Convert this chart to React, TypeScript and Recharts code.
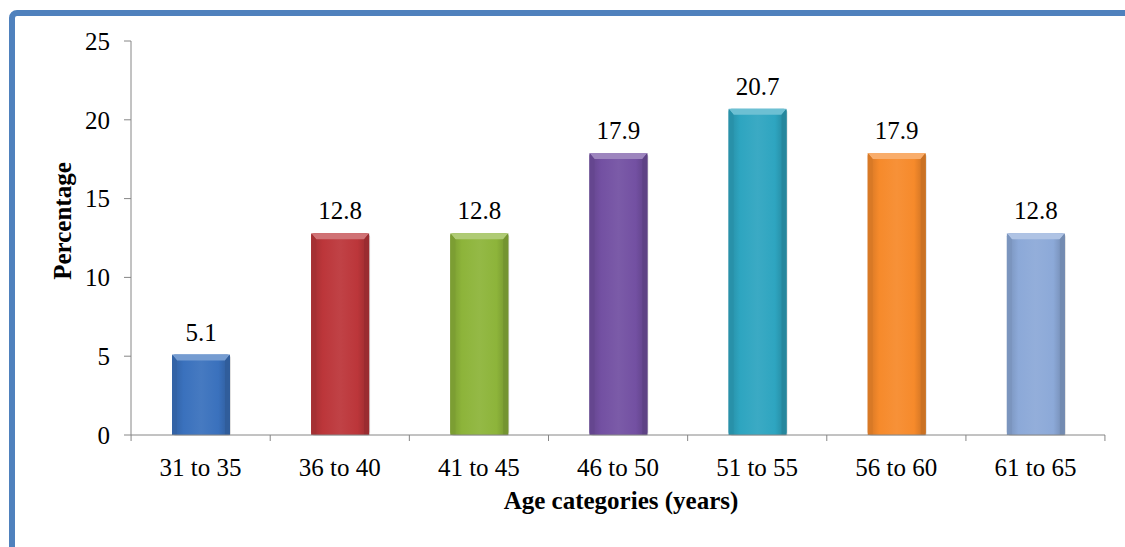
import { Bar, BarChart, LabelList, XAxis, YAxis } from "recharts";

const ageGroups = ["31 to 35", "36 to 40", "41 to 45", "46 to 50", "51 to 55", "56 to 60", "61 to 65"];
const percentages = [5.1, 12.8, 12.8, 17.9, 20.7, 17.9, 12.8];
const barColors = ["#3a71bd", "#bc363a", "#8db43a", "#7350a2", "#2ea5c0", "#f68a2b", "#8ca9d8"];
const yTicks = [0, 5, 10, 15, 20, 25];

const data = ageGroups.map((group, i) => ({ group, value: percentages[i] }));

const FONT = "'Liberation Serif', 'Times New Roman', serif";
const BAND = 139;
const textStyle = { fontFamily: FONT, fontSize: 25, fill: "#000" };

// shift a hex colour toward black (amt < 0) or white (amt > 0)
function shade(hex: string, amt: number) {
  const n = parseInt(hex.slice(1), 16);
  const ch = [(n >> 16) & 255, (n >> 8) & 255, n & 255].map((c) =>
    Math.round(amt < 0 ? c * (1 + amt) : c + (255 - c) * amt)
  );
  return `rgb(${ch[0]},${ch[1]},${ch[2]})`;
}

function BevelBar(props: any) {
  const { x, y, width, height, index } = props;
  if (!height || height <= 0) return null;
  const base = barColors[index];
  const b = 5;
  return (
    <g>
      <rect x={x + 1} y={y + 1} width={width} height={height} fill="rgba(0,0,0,0.12)" rx={3} />
      <rect x={x} y={y} width={width} height={height} fill={`url(#bar-grad-${index})`} rx={3} />
      <polygon
        points={`${x},${y} ${x + width},${y} ${x + width - b},${y + b + 1} ${x + b},${y + b + 1}`}
        fill={shade(base, 0.3)}
      />
      <polygon
        points={`${x},${y} ${x + b},${y + b + 1} ${x + b},${y + height} ${x},${y + height}`}
        fill={shade(base, -0.12)}
      />
      <polygon
        points={`${x + width},${y} ${x + width - b},${y + b + 1} ${x + width - b},${y + height} ${x + width},${y + height}`}
        fill={shade(base, -0.18)}
      />
    </g>
  );
}

function CategoryTick(props: any) {
  const { x, y, payload, index } = props;
  const axisY = y - 23;
  return (
    <g>
      <line x1={x - BAND / 2} y1={axisY} x2={x - BAND / 2} y2={axisY + 6} stroke="#868686" />
      {index === ageGroups.length - 1 && (
        <line x1={x + BAND / 2} y1={axisY} x2={x + BAND / 2} y2={axisY + 6} stroke="#868686" />
      )}
      <text x={x} y={y} dy="0.71em" textAnchor="middle" style={textStyle}>
        {payload.value}
      </text>
    </g>
  );
}

export default function App() {
  return (
    <div style={{ position: "absolute", left: 0, top: 0, width: 1125, height: 547, background: "#fff", overflow: "hidden" }}>
      <div
        style={{
          position: "absolute",
          left: 9,
          top: 10,
          width: 1200,
          height: 600,
          border: "6px solid #4f81bd",
          borderRadius: 8,
        }}
      />
      <div style={{ position: "absolute", left: 0, top: 0 }}>
        <BarChart
          width={1125}
          height={547}
          data={data}
          margin={{ top: 41, right: 20, bottom: 52, left: 71 }}
          barCategoryGap={0}
        >
          <defs>
            {barColors.map((c, i) => (
              <linearGradient key={c} id={`bar-grad-${i}`} x1="0" y1="0" x2="1" y2="0">
                <stop offset="0%" stopColor={shade(c, -0.15)} />
                <stop offset="20%" stopColor={c} />
                <stop offset="50%" stopColor={shade(c, 0.06)} />
                <stop offset="80%" stopColor={c} />
                <stop offset="100%" stopColor={shade(c, -0.2)} />
              </linearGradient>
            ))}
          </defs>
          <XAxis
            dataKey="group"
            height={60}
            stroke="#868686"
            tickLine={false}
            tickSize={6}
            tickMargin={17}
            interval={0}
            tick={<CategoryTick />}
            label={{
              value: "Age categories (years)",
              content: () => (
                <text x={621} y={509} textAnchor="middle" style={{ ...textStyle, fontWeight: "bold" }}>
                  Age categories (years)
                </text>
              ),
            }}
          />
          <YAxis
            width={60}
            domain={[0, 25]}
            ticks={yTicks}
            interval={0}
            stroke="#868686"
            tickSize={7}
            tickMargin={14}
            tick={textStyle}
            label={{
              value: "Percentage",
              content: () => (
                <text
                  x={62}
                  y={221}
                  transform="rotate(-90 62 221)"
                  textAnchor="middle"
                  dominantBaseline="central"
                  style={{ ...textStyle, fontWeight: "bold" }}
                >
                  Percentage
                </text>
              ),
            }}
          />
          <Bar dataKey="value" barSize={58} shape={<BevelBar />} isAnimationActive={false}>
            <LabelList dataKey="value" position="top" offset={14} style={textStyle} />
          </Bar>
        </BarChart>
      </div>
    </div>
  );
}
